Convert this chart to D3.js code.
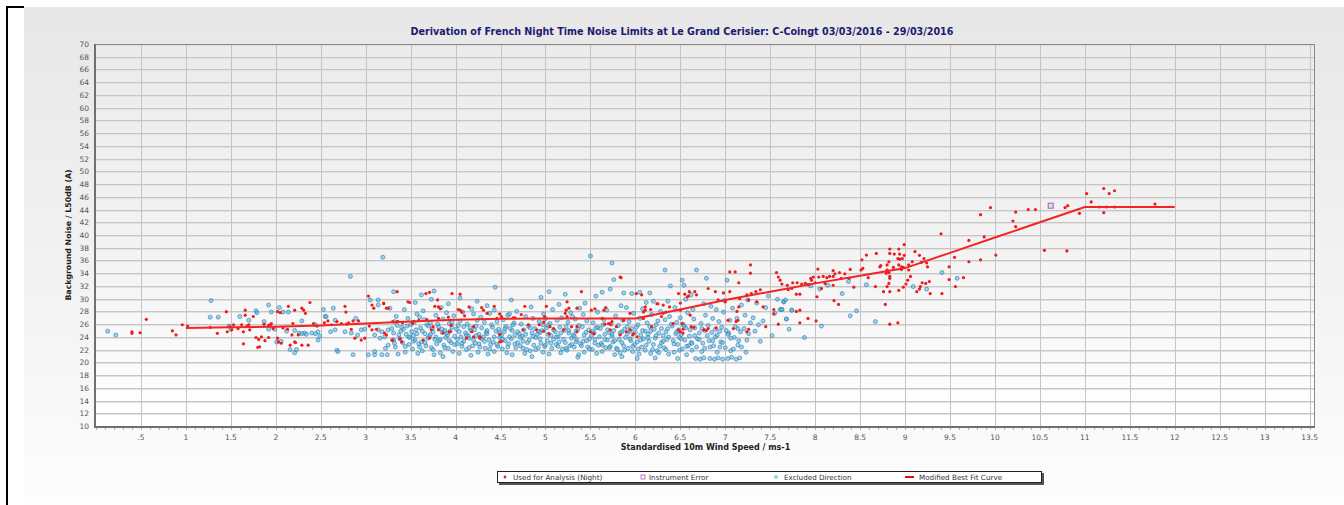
<!DOCTYPE html>
<html>
<head>
<meta charset="utf-8">
<script src="https://cdn.jsdelivr.net/npm/d3@7"></script>
<style>
  html, body { margin: 0; padding: 0; background: #ffffff; }
  svg { display: block; }
</style>
</head>
<body>
<svg id="chart" width="1344" height="505"></svg>
<script>
// ---- Chart text ----
const chartTitle = "Derivation of French Night Time Noise Limits at Le Grand Cerisier: C-Coingt 03/03/2016 - 29/03/2016";
const xAxisTitle = "Standardised 10m Wind Speed / ms-1";
const yAxisTitle = "Background Noise / L50dB (A)";
const legendLabels = ["Used for Analysis (Night)", "Instrument Error", "Excluded Direction", "Modified Best Fit Curve"];

// ---- Axis ticks ----
const xTicks = [0.5, 1, 1.5, 2, 2.5, 3, 3.5, 4, 4.5, 5, 5.5, 6, 6.5, 7, 7.5, 8, 8.5, 9, 9.5, 10, 10.5, 11, 11.5, 12, 12.5, 13, 13.5];
const xTickLabels = [".5", "1", "1.5", "2", "2.5", "3", "3.5", "4", "4.5", "5", "5.5", "6", "6.5", "7", "7.5", "8", "8.5", "9", "9.5", "10", "10.5", "11", "11.5", "12", "12.5", "13", "13.5"];
const yTicks = [10, 12, 14, 16, 18, 20, 22, 24, 26, 28, 30, 32, 34, 36, 38, 40, 42, 44, 46, 48, 50, 52, 54, 56, 58, 60, 62, 64, 66, 68, 70];

// ---- Modified best fit curve (wind speed, dB) ----
const curveSpeeds = [1, 1.5, 2, 2.5, 3, 3.5, 4, 4.5, 5, 5.5, 6, 6.5, 7, 7.5, 8, 8.5, 9, 9.5, 10, 10.5, 11, 11.5, 12];
const curveLevels = [25.4, 25.5, 25.6, 25.8, 26.1, 26.4, 26.7, 26.85, 26.9, 26.9, 26.9, 28.3, 29.8, 31.1, 32.4, 33.6, 34.8, 37.2, 39.6, 42.0, 44.4, 44.4, 44.4];

// ---- Used for Analysis (Night) ----
const usedPoints = [
  [0.40,24.8],[0.40,24.55],[0.49,24.65],[0.56,26.75],[0.85,24.95],[0.89,24.3],[0.96,25.9],[1.02,25.7],
  [1.27,25.5],[1.35,24.55],[1.45,27.95],[1.46,24.8],[1.49,25.6],[1.51,25.1],[1.53,25.9],[1.62,25.9],[1.64,24.8],[1.66,28.2],
  [1.70,25.9],[1.71,25.1],[1.75,27.2],[1.78,23.9],[1.81,23.6],[1.82,22.45],[1.84,24.0],[1.88,23.4],[1.92,23.9],[1.94,25.9],
  [1.95,26.1],[1.97,25.3],[2.02,27.95],[2.02,23.8],[2.05,27.8],[2.06,23.0],[2.14,28.8],[2.16,22.7],[2.18,24.3],[2.19,26.1],
  [2.21,23.2],[2.21,28.2],[2.29,28.5],[2.31,28.2],[2.33,27.7],[2.25,24.3],[2.38,29.4],[2.42,26.1],[2.36,22.7],[2.54,26.2],
  [2.58,26.5],[2.68,26.4],[2.73,26.1],[2.77,28.8],[2.78,27.9],[2.79,26.0],[2.81,26.2],[2.86,26.5],[2.84,25.2],[2.88,23.8],
  [2.92,26.5],[2.95,23.5],[2.99,23.8],[3.03,30.4],[3.04,25.7],[3.07,29.0],[3.09,28.5],[3.07,25.1],[3.12,25.2],[3.20,29.3],
  [3.23,24.3],[3.25,28.5],[3.29,23.5],
  [1.64,22.9],[1.80,22.35],[2.03,23.2],[2.22,23.1],[2.29,22.7],[1.66,27.4],[2.13,25.2],[1.58,25.3],[1.68,25.7],[1.87,26.0],
  [1.92,25.8],[2.08,25.4],[2.46,25.7],[2.62,25.9],
  [3.35,31.1],[3.47,29.5],[3.71,31.0],[3.67,30.8],[3.80,29.8],[3.81,28.7],[3.83,28.4],[3.96,30.8],[4.05,30.7],[4.05,28.2],
  [4.07,27.9],[4.29,28.6],[4.31,28.2],[4.35,27.7],[4.49,27.6],[4.51,27.2],[4.43,28.8],[4.77,28.8],[4.73,27.5],[4.66,27.0],
  [4.99,27.2],[4.98,26.3],[5.23,28.2],[5.26,28.5],[5.24,29.5],[5.40,31.1],[5.35,28.5],[5.65,28.2],[5.67,28.6],[5.83,33.4],
  [5.74,26.4],[5.72,26.0],[5.70,26.1],[6.01,30.8],[6.07,30.6],[6.11,28.7],[6.24,29.2],[6.31,29.0],[6.50,29.3],[6.55,30.7],
  [6.59,30.4],[6.50,24.8],[6.53,24.6],[6.42,26.1],
  [3.30,23.5],[3.38,23.7],[3.40,23.2],[3.64,23.5],[3.71,23.8],[3.73,25.1],[3.86,24.6],[3.93,24.8],[3.95,25.8],[4.12,23.8],
  [4.20,24.0],[4.27,24.0],[4.18,24.8],[4.49,24.4],[4.49,23.2],[4.75,25.1],[4.90,25.1],[4.98,24.9],[5.05,25.6],[5.04,24.5],
  [4.81,25.9],[5.29,25.6],[5.35,25.6],[5.50,24.8],[5.54,24.5],[5.90,24.8],[5.97,24.3],[3.30,26.4],[3.36,26.4],[3.41,26.2],
  [3.52,26.1],[3.59,26.6],[5.55,28.4],[5.51,28.2],
  [3.23,28.5],[3.20,29.2],[3.49,29.4],[3.77,28.8],[4.03,28.3],[4.15,28.7],[5.01,28.8],[5.22,27.7],[5.24,27.2],[3.35,26.4],
  [3.53,26.4],[3.68,26.7],[3.81,26.9],[3.92,27.1],[4.10,27.3],[4.46,26.9],[4.64,27.0],[3.21,24.6],[3.94,24.8],[3.75,25.6],
  [3.81,25.1],[4.20,25.6],[4.93,25.9],[5.09,25.3],[5.20,25.1],[5.35,24.8],[4.51,23.3],[4.27,23.8],
  [7.28,35.3],[7.05,34.2],[7.11,34.2],[7.28,34.0],[7.57,34.1],[7.59,33.4],[7.15,32.5],[7.05,31.1],[6.98,30.9],[6.89,31.1],
  [6.81,31.6],[6.60,31.1],[6.66,31.1],[6.68,30.6],[6.58,30.3],[6.92,29.8],[7.00,29.5],[7.16,30.0],[7.24,30.6],[7.29,30.8],
  [7.34,31.1],[7.39,31.4],[7.26,29.8],[7.15,28.7],[7.13,28.0],[7.14,26.6],[7.12,26.4],[7.42,28.7],[7.35,29.5],[7.54,28.3],
  [7.54,27.6],[7.59,26.0],[7.45,25.6],[7.26,25.2],[7.24,24.8],[7.09,25.3],[7.03,26.6],[6.90,25.4],[6.81,25.3],[6.76,25.1],
  [6.79,25.0],[6.62,25.6],[6.65,25.5],[6.53,25.2],[6.48,25.1],[6.52,26.1],[6.61,27.4],[6.50,28.2],[6.38,28.7],[6.34,27.9],
  [6.31,27.7],[6.29,27.2],[6.25,29.2],[6.17,28.3],[6.11,28.2],[6.09,27.9],[5.84,33.3],[5.94,27.7],[5.87,26.6],[5.79,25.6],
  [5.72,25.1],[5.66,26.0],[5.63,26.9],[5.94,25.1],[5.83,24.3],[5.98,24.5],[6.02,24.0],[6.09,26.9],[6.18,25.6],[6.48,30.8],
  [11.78,44.85],[11.21,47.3],[11.33,46.95],[11.27,46.5],[11.02,46.5],[11.07,45.2],[11.16,44.4],[11.24,44.4],[11.33,44.4],
  [11.21,43.5],[10.94,43.4],[10.78,44.3],[10.81,44.6],[10.37,44.0],[10.45,44.0],[10.23,43.6],[10.20,42.2],[10.23,41.3],
  [9.95,44.3],[9.84,43.2],[9.88,39.7],[9.71,39.15],[9.40,40.2],[9.55,36.5],[9.71,35.8],[9.84,36.1],[10.01,36.85],[10.55,37.6],
  [10.80,37.5],[9.49,35.0],[9.49,33.0],[9.56,31.9],[9.65,33.3],[9.41,30.8],[9.28,30.8],[9.27,32.7],[9.23,32.4],[9.19,32.5],
  [9.17,31.9],[9.13,31.1],[9.16,31.5],
  [8.99,38.5],[8.93,37.8],[8.83,37.8],[8.83,37.1],[8.88,37.0],[8.94,37.0],[8.99,36.8],[8.92,36.3],[8.94,36.2],[8.97,36.3],
  [9.11,37.4],[9.16,36.8],[9.21,36.3],[9.24,35.6],[9.18,35.7],[9.25,35.0],[9.08,35.8],[9.04,35.3],[8.96,35.0],[8.98,34.9],
  [8.96,34.6],[8.93,35.3],[8.87,34.9],[8.82,35.8],[8.80,35.3],[8.73,35.2],[8.72,35.0],[8.80,34.5],[8.79,34.0],[8.82,34.1],
  [8.83,33.5],[9.04,34.5],[9.06,33.5],[9.03,32.9],[9.01,32.3],[8.98,31.8],[8.83,33.2],[8.82,32.4],[8.80,31.9],[8.76,31.1],
  [8.83,31.1],[8.93,31.3],[8.78,29.1],[8.83,26.0],[8.92,26.2],[8.68,37.1],[8.57,36.85],[8.52,36.1],[8.53,34.75],[8.51,34.5],
  [8.59,33.3],[8.67,31.9],[8.38,33.2],[8.39,34.6],[8.43,31.8],[8.20,34.4],[8.27,34.1],[8.22,33.9],[8.20,33.5],[8.33,33.9],
  [8.29,33.2],[8.16,33.5],[8.13,33.3],[8.09,33.5],[8.04,33.4],[8.03,34.65],[7.98,33.4],[7.95,33.2],[7.96,32.9],[8.00,32.5],
  [7.93,32.2],[7.91,32.2],[7.89,32.4],[7.85,32.3],[7.80,32.5],[7.75,32.5],[7.74,31.6],[7.70,31.4],[7.69,32.1],[7.63,32.3],
  [7.61,32.9],[8.11,32.4],[8.20,32.1],[8.07,31.6],[8.02,30.3],[7.83,30.7],[7.79,30.7],[8.21,29.7],[8.26,29.1],[7.83,28.2],
  [7.79,28.0],[7.83,26.2],[7.92,26.9],[8.01,26.5]
];

// ---- Instrument Error ----
const instrumentErrorPoints = [[10.62,44.6]];

// ---- Excluded Direction ----
const excludedPoints = [
  [0.13,24.9],[0.22,24.3],[1.28,29.7],[1.27,27.1],[1.36,27.1],[1.48,25.7],[1.50,25.2],[1.78,28.1],[1.79,27.8],[1.92,29.0],
  [1.95,27.9],[2.08,27.9],[2.14,27.9],[1.92,25.2],[1.99,25.2],[2.01,23.2],[2.06,23.3],[2.12,24.9],[2.21,25.0],[2.26,24.6],
  [2.16,22.0],[2.21,21.5],[2.23,22.0],[2.29,26.5],[2.44,25.9],[2.55,27.2],[2.29,24.5],[2.32,24.6],[2.34,24.4],[2.40,24.6],
  [2.44,24.5],[2.47,24.8],[2.49,24.1],[2.47,23.5],[2.53,28.3],[2.64,28.5],[2.56,27.2],[2.66,26.6],[2.61,24.8],[2.66,25.1],
  [2.77,24.8],[2.84,24.6],[2.68,21.9],[2.69,21.7],[2.86,21.2],[2.83,33.5],[2.89,26.9],[2.91,24.3],[2.95,25.1],[2.99,25.2],
  [3.05,29.8],[3.14,29.8],[3.19,36.5],[3.10,24.3],[3.14,25.1],[3.16,23.8],[3.18,24.8],[3.21,24.0],[3.25,25.1],[3.29,25.3],
  [3.31,23.5],[3.25,22.7],[3.22,22.2],[3.03,21.2],[3.10,21.2],[3.18,21.2],[3.24,21.2],[3.10,21.7],[3.31,31.1],[3.14,29.0],
  [3.27,28.5],[1.60,27.2],[1.70,26.6],[1.87,26.4],[2.04,28.6],
  [3.31,24.6],[3.33,22.4],[3.35,25.8],[3.36,21.3],[3.38,23.7],[3.34,27.2],[3.39,24.9],[3.32,26.4],
  [3.41,23.1],[3.42,25.2],[3.44,21.6],[3.45,24.4],[3.47,26.9],[3.48,22.8],[3.43,28.3],[3.46,25.7],[3.49,23.9],
  [3.51,24.8],[3.52,22.1],[3.54,26.3],[3.55,23.5],[3.56,25.1],[3.58,21.4],[3.57,27.6],[3.53,24.2],[3.59,22.9],[3.55,29.4],
  [3.61,25.4],[3.62,23.2],[3.63,21.8],[3.65,26.7],[3.66,24.5],[3.67,22.6],[3.68,25.9],[3.64,28.1],[3.69,23.8],[3.62,30.6],
  [3.71,24.1],[3.72,26.2],[3.73,22.3],[3.74,25.3],[3.76,21.2],[3.77,23.6],[3.78,27.4],[3.75,24.8],[3.79,22.9],[3.73,29.9],[3.76,31.2],
  [3.81,25.6],[3.82,23.4],[3.83,21.5],[3.85,24.7],[3.86,26.8],[3.87,22.7],[3.88,25.0],[3.84,28.6],[3.89,23.9],[3.86,20.9],
  [3.91,24.3],[3.92,22.2],[3.93,26.1],[3.95,23.1],[3.96,25.5],[3.97,21.7],[3.98,27.3],[3.94,24.9],[3.99,22.8],[3.92,29.2],
  [4.01,25.2],[4.02,23.6],[4.04,21.4],[4.05,26.5],[4.06,24.0],[4.07,22.5],[4.08,27.9],[4.03,25.8],[4.09,23.3],[4.05,30.1],
  [4.11,24.6],[4.12,22.0],[4.13,26.0],[4.15,23.8],[4.16,25.4],[4.17,21.1],[4.18,28.4],[4.14,24.2],[4.19,22.6],
  [4.21,25.1],[4.22,23.0],[4.24,26.6],[4.25,21.6],[4.26,24.4],[4.27,22.4],[4.28,27.1],[4.23,25.7],[4.29,23.7],[4.24,29.6],
  [4.31,24.0],[4.32,26.3],[4.33,22.2],[4.35,25.0],[4.36,21.3],[4.37,23.5],[4.38,27.7],[4.34,24.7],[4.39,22.8],[4.35,28.9],
  [4.41,25.5],[4.42,23.2],[4.43,21.7],[4.45,24.9],[4.46,26.4],[4.47,22.5],[4.44,31.8],[4.48,25.2],[4.49,23.9],[4.43,28.2],
  [4.51,24.2],[4.52,22.1],[4.53,26.7],[4.55,23.4],[4.56,25.6],[4.57,21.5],[4.58,27.4],[4.54,24.8],[4.59,22.9],
  [4.61,25.3],[4.62,23.7],[4.63,21.2],[4.65,26.2],[4.66,24.3],[4.67,22.3],[4.68,28.0],[4.64,25.9],[4.69,23.1],[4.62,29.8],
  [4.71,24.5],[4.72,22.6],[4.73,26.0],[4.75,23.3],[4.76,25.1],[4.77,21.4],[4.78,27.2],[4.74,24.1],[4.79,22.0],
  [4.81,25.7],[4.82,23.5],[4.83,21.8],[4.85,24.6],[4.86,26.9],[4.87,22.7],[4.88,25.3],[4.84,28.7],[4.89,23.9],[4.85,20.9],
  [4.91,24.4],[4.92,22.3],[4.93,26.4],[4.95,23.0],[4.96,25.0],[4.97,21.6],[4.98,27.6],[4.94,24.7],[4.99,22.5],[4.95,30.2],
  [5.01,25.4],[5.02,23.4],[5.04,21.3],[5.05,26.1],[5.06,24.2],[5.07,22.2],[5.08,28.3],[5.03,25.8],[5.09,23.6],[5.04,31.1],
  [5.11,24.8],[5.12,22.8],[5.13,26.6],[5.15,23.2],[5.16,25.5],[5.17,21.5],[5.18,27.0],[5.14,24.0],[5.19,22.1],[5.15,29.1],
  [5.21,25.0],[5.22,23.1],[5.24,21.9],[5.25,26.3],[5.26,24.6],[5.27,22.6],[5.28,27.8],[5.23,25.6],[5.29,23.8],[5.22,30.7],
  [5.31,24.3],[5.32,22.4],[5.33,26.8],[5.35,23.5],[5.36,25.2],[5.37,21.2],[5.38,28.5],[5.34,24.9],[5.39,22.9],[5.36,20.8],
  [5.41,25.6],[5.42,23.3],[5.43,21.6],[5.45,24.7],[5.46,26.5],[5.47,22.4],[5.48,25.1],[5.44,29.3],[5.49,23.7],[5.42,27.5],
  [5.50,36.7],[5.51,24.2],[5.52,22.0],[5.53,26.2],[5.55,23.6],[5.56,25.4],[5.57,21.4],[5.58,27.9],[5.54,24.6],[5.59,22.7],[5.56,30.4],
  [5.61,25.3],[5.62,23.0],[5.63,21.7],[5.65,26.7],[5.66,24.4],[5.67,22.3],[5.68,28.2],[5.64,25.9],[5.69,23.5],[5.63,31.0],
  [5.71,24.7],[5.72,22.5],[5.73,26.0],[5.74,35.6],[5.75,23.2],[5.76,25.0],[5.77,21.2],[5.78,27.3],[5.74,24.1],[5.79,22.2],[5.76,33.0],[5.72,31.5],
  [5.81,25.8],[5.82,23.6],[5.83,21.5],[5.85,24.8],[5.86,26.6],[5.87,22.6],[5.88,25.2],[5.84,28.9],[5.89,23.9],[5.87,30.9],[5.85,20.9],
  [5.91,24.5],[5.92,22.2],[5.93,26.4],[5.95,23.4],[5.96,25.3],[5.97,21.7],[5.98,27.7],[5.94,24.9],[5.99,22.8],[5.96,30.8],
  [6.01,25.5],[6.02,23.2],[6.04,21.3],[6.05,26.9],[6.06,24.3],[6.07,22.4],[6.08,28.4],[6.03,25.9],[6.09,23.7],[6.05,31.0],[6.02,20.6],
  [6.11,24.9],[6.12,22.7],[6.13,26.2],[6.15,23.3],[6.16,25.6],[6.17,21.4],[6.18,27.5],[6.14,24.4],[6.19,22.0],[6.16,30.9],[6.12,29.4],
  [6.21,25.2],[6.22,23.8],[6.24,21.8],[6.25,26.5],[6.26,24.6],[6.27,22.5],[6.28,28.0],[6.23,25.9],[6.29,23.1],[6.22,20.7],
  [6.31,24.2],[6.32,22.3],[6.33,34.5],[6.33,26.7],[6.35,23.6],[6.36,25.3],[6.37,21.3],[6.38,27.2],[6.34,24.8],[6.39,32.0],[6.36,29.6],
  [6.41,25.7],[6.42,23.4],[6.43,21.6],[6.45,24.5],[6.46,26.3],[6.47,22.8],[6.48,25.1],[6.44,28.6],[6.49,23.9],[6.47,20.6],
  [6.51,24.4],[6.52,32.9],[6.52,22.1],[6.53,26.0],[6.55,23.5],[6.56,25.4],[6.57,21.2],[6.58,27.8],[6.54,32.1],[6.59,22.6],[6.56,29.9],
  [6.61,25.1],[6.62,23.1],[6.63,21.9],[6.65,26.8],[6.66,24.2],[6.67,20.6],[6.68,34.5],[6.64,28.3],[6.69,23.7],[6.62,30.6],
  [6.71,24.6],[6.72,20.5],[6.73,26.1],[6.75,23.0],[6.76,20.7],[6.77,22.2],[6.78,27.4],[6.79,33.2],[6.74,25.3],[6.76,29.2],
  [6.81,25.8],[6.82,23.4],[6.83,20.6],[6.85,24.7],[6.86,26.9],[6.87,22.6],[6.88,20.5],[6.84,28.8],[6.89,24.0],
  [6.91,24.3],[6.92,20.7],[6.93,26.4],[6.95,23.2],[6.96,25.5],[6.97,20.5],[6.98,27.9],[6.94,22.4],[6.99,29.7],
  [7.01,25.0],[7.02,32.9],[7.03,20.6],[7.05,26.6],[7.06,23.8],[7.07,20.8],[7.08,28.5],[7.04,24.6],[7.09,22.1],
  [7.11,25.6],[7.12,20.5],[7.13,26.9],[7.15,23.4],[7.16,20.7],[7.17,24.8],[7.18,29.0],[7.14,22.7],
  [7.21,25.3],[7.22,27.4],[7.24,23.5],[7.25,29.8],[7.26,24.5],[7.28,26.2],[7.23,21.6],
  [7.31,27.0],[7.33,24.9],[7.35,29.3],[7.37,25.9],[7.39,23.3],
  [7.42,26.5],[7.45,28.6],[7.48,30.4],[7.52,24.2],[7.55,27.7],[7.58,29.9],[7.61,28.3],[7.63,28.3],[7.65,29.5],[7.68,26.8],
  [7.74,28.2],[7.88,23.9],[7.71,25.2],
  [9.41,34.1],[9.58,33.2],[9.24,31.5],[9.09,31.9],[8.57,32.2],[8.37,32.7],[8.14,32.1],[8.46,28.1],[8.39,27.3],[8.67,26.4],
  [8.07,25.7],[7.68,26.8],[7.65,29.5],[7.67,29.8],[7.74,28.2],[7.63,28.3],[8.05,31.5],[7.95,32.0],[8.30,30.8],
  // dense core of the excluded-direction cloud
  [3.32,23.0],[3.37,24.3],[3.40,25.5],[3.44,22.5],[3.48,24.0],[3.50,25.9],[3.53,23.3],[3.57,24.5],[3.60,22.4],[3.63,24.9],
  [3.66,23.1],[3.70,25.7],[3.72,24.4],[3.75,22.0],[3.78,24.0],[3.80,26.0],[3.83,23.6],[3.85,25.2],[3.88,22.3],[3.90,24.6],
  [3.93,23.4],[3.96,26.3],[3.99,24.1],[4.02,22.9],[4.04,24.8],[4.07,23.0],[4.09,25.6],[4.12,24.3],[4.15,22.3],[4.17,25.0],
  [4.20,23.5],[4.23,24.2],[4.26,22.9],[4.29,25.4],[4.32,23.3],[4.35,24.5],[4.38,22.1],[4.40,25.9],[4.43,24.0],[4.46,22.8],
  [4.49,24.6],[4.52,23.6],[4.55,25.3],[4.58,22.4],[4.60,24.0],[4.63,25.0],[4.66,22.9],[4.69,24.8],[4.72,23.9],[4.75,22.2],
  [4.78,24.4],[4.80,23.1],[4.83,25.4],[4.86,24.1],[4.89,22.0],[4.92,24.9],[4.94,23.7],[4.97,25.9],[5.00,22.7],[5.03,24.4],
  [5.06,23.0],[5.09,25.1],[5.12,24.0],[5.14,22.5],[5.17,24.6],[5.20,23.6],[5.23,22.2],[5.26,25.0],[5.29,22.8],[5.32,24.1],
  [5.34,23.2],[5.37,25.8],[5.40,22.6],[5.43,24.3],[5.46,23.4],[5.49,22.1],[5.52,24.9],[5.55,23.0],[5.58,25.5],[5.60,24.0],
  [5.63,22.7],[5.66,23.6],[5.69,25.1],[5.71,22.3],[5.74,24.4],[5.77,23.4],[5.80,22.0],[5.83,24.6],[5.85,23.1],[5.88,21.9],
  [5.91,25.6],[5.94,23.7],[5.97,22.5],[6.00,24.7],[6.03,22.1],[6.06,23.5],[6.08,25.0],[6.11,21.9],[6.14,23.9],[6.17,24.9],
  [6.20,22.8],[6.23,24.2],[6.26,21.5],[6.29,25.3],[6.31,23.3],[6.34,22.0],[6.37,24.0],[6.40,26.0],[6.43,22.9],[6.46,24.8],
  [6.49,21.9],[6.51,23.7],[6.54,25.7],[6.57,22.5],[6.60,24.1],[6.63,23.0],[6.66,25.4],[6.68,22.4],[6.71,23.6],[6.74,21.7],
  [6.77,25.0],[6.80,24.2],[6.83,22.4],[6.86,23.4],[6.89,25.2],[6.91,21.6],[6.94,24.9],[6.97,23.1],[7.00,22.3],[7.03,24.4],
  [7.06,21.8],[7.10,23.9],[7.14,25.3],[7.18,22.4],
  [3.90,27.8],[4.60,27.6],[5.30,27.2],[5.90,28.6],[6.20,29.6],[6.50,27.0],[6.90,28.3],[5.00,26.9],[4.20,27.6],[3.60,27.1]
];

// ---- Layout ----
const W = 1344, H = 505;
const plot = { left: 96, right: 1315, top: 44, bottom: 426 };

const svg = d3.select("#chart");
const x = d3.scaleLinear().domain([0, 13.56]).range([plot.left, plot.right]);
const y = d3.scaleLinear().domain([10, 70]).range([plot.bottom, plot.top]);

const defs = svg.append("defs");
const panelGrad = defs.append("linearGradient").attr("id", "panelGrad").attr("x1", 0).attr("x2", 0).attr("y1", 0).attr("y2", 1);
panelGrad.append("stop").attr("offset", "0%").attr("stop-color", "#e7e7e7");
panelGrad.append("stop").attr("offset", "70%").attr("stop-color", "#f6f6f6");
panelGrad.append("stop").attr("offset", "100%").attr("stop-color", "#fdfdfd");
const plotGrad = defs.append("linearGradient").attr("id", "plotGrad").attr("x1", 0).attr("x2", 0).attr("y1", 0).attr("y2", 1);
plotGrad.append("stop").attr("offset", "0%").attr("stop-color", "#ebebeb");
plotGrad.append("stop").attr("offset", "60%").attr("stop-color", "#f4f4f4");
plotGrad.append("stop").attr("offset", "100%").attr("stop-color", "#ffffff");

// Outer panel and frame
svg.append("rect").attr("x", 24).attr("y", 7).attr("width", W - 24).attr("height", H - 7).attr("fill", "url(#panelGrad)");
svg.append("line").attr("x1", 7).attr("x2", 7).attr("y1", 6).attr("y2", H).attr("stroke", "#000").attr("stroke-width", 2);
svg.append("line").attr("x1", 6).attr("x2", 24).attr("y1", 7).attr("y2", 7).attr("stroke", "#000").attr("stroke-width", 2);

// Title
svg.append("text").attr("x", 682).attr("y", 35).attr("text-anchor", "middle")
  .attr("font-family", "DejaVu Sans, Verdana, sans-serif").attr("font-weight", "bold").attr("font-size", "9.6px")
  .attr("fill", "#1b1b72").text(chartTitle);

// Plot background
svg.append("rect").attr("x", plot.left).attr("y", plot.top).attr("width", plot.right - plot.left).attr("height", plot.bottom - plot.top)
  .attr("fill", "url(#plotGrad)");

// Grid
const grid = svg.append("g");
grid.selectAll("line.h").data(yTicks.slice(1)).join("line")
  .attr("x1", plot.left).attr("x2", plot.right)
  .attr("y1", d => Math.round(y(d)) + 0.5).attr("y2", d => Math.round(y(d)) + 0.5)
  .attr("stroke", "#c6c6c6").attr("stroke-width", 1);
grid.selectAll("line.h2").data(yTicks.slice(1)).join("line")
  .attr("x1", plot.left).attr("x2", plot.right)
  .attr("y1", d => Math.round(y(d)) + 1.5).attr("y2", d => Math.round(y(d)) + 1.5)
  .attr("stroke", "#e2e2e2").attr("stroke-width", 1);
grid.selectAll("line.v").data(xTicks).join("line")
  .attr("x1", d => Math.round(x(d)) + 0.5).attr("x2", d => Math.round(x(d)) + 0.5)
  .attr("y1", plot.top).attr("y2", plot.bottom)
  .attr("stroke", "#c4c4c4").attr("stroke-width", 1);

// Plot border
svg.append("line").attr("x1", plot.left).attr("x2", plot.right).attr("y1", plot.top + 0.5).attr("y2", plot.top + 0.5).attr("stroke", "#8a8a8a");
svg.append("line").attr("x1", plot.right - 0.5).attr("x2", plot.right - 0.5).attr("y1", plot.top).attr("y2", plot.bottom).attr("stroke", "#8a8a8a");
svg.append("line").attr("x1", plot.left - 1).attr("x2", plot.left - 1).attr("y1", plot.top).attr("y2", plot.bottom + 2).attr("stroke", "#707070").attr("stroke-width", 2);
svg.append("line").attr("x1", plot.left - 2).attr("x2", plot.right).attr("y1", plot.bottom + 1).attr("y2", plot.bottom + 1).attr("stroke", "#707070").attr("stroke-width", 2);

// Minor ticks along the x axis
const minorTicks = d3.range(0, 136).map(i => i / 10);
svg.append("g").selectAll("line").data(minorTicks).join("line")
  .attr("x1", d => Math.round(x(d)) + 0.5).attr("x2", d => Math.round(x(d)) + 0.5)
  .attr("y1", plot.bottom + 2).attr("y2", plot.bottom + 4)
  .attr("stroke", "#b0b0b0");

// Tick labels
const tickFont = "DejaVu Sans, Verdana, sans-serif";
svg.append("g").selectAll("text").data(yTicks).join("text")
  .attr("x", plot.left - 7).attr("y", d => y(d) + 3)
  .attr("text-anchor", "end").attr("font-family", tickFont).attr("font-size", "7.5px").attr("fill", "#555")
  .text(d => d);
svg.append("g").selectAll("text").data(xTicks).join("text")
  .attr("x", d => x(d)).attr("y", plot.bottom + 14)
  .attr("text-anchor", "middle").attr("font-family", tickFont).attr("font-size", "7.5px").attr("fill", "#555")
  .text((d, i) => xTickLabels[i]);

// Axis titles
svg.append("text").attr("x", (plot.left + plot.right) / 2).attr("y", 450).attr("text-anchor", "middle")
  .attr("font-family", tickFont).attr("font-weight", "bold").attr("font-size", "8px").attr("fill", "#222")
  .text(xAxisTitle);
svg.append("text").attr("transform", `translate(71,${(plot.top + plot.bottom) / 2}) rotate(-90)`).attr("text-anchor", "middle")
  .attr("font-family", tickFont).attr("font-weight", "bold").attr("font-size", "7.8px").attr("fill", "#222")
  .text(yAxisTitle);

// Data marks
const marks = svg.append("g");
marks.selectAll("circle.ex").data(excludedPoints).join("circle")
  .attr("cx", d => x(d[0])).attr("cy", d => y(d[1])).attr("r", 2)
  .attr("fill", "rgba(95,178,215,0.55)").attr("stroke", "rgba(40,130,185,0.8)").attr("stroke-width", 0.8);
marks.selectAll("circle.used").data(usedPoints).join("circle")
  .attr("cx", d => x(d[0])).attr("cy", d => y(d[1])).attr("r", 1.6)
  .attr("fill", "#ee1c1c");

const curveData = curveSpeeds.map((s, i) => [s, curveLevels[i]]);
marks.append("path").datum(curveData)
  .attr("d", d3.line().x(d => x(d[0])).y(d => y(d[1])))
  .attr("fill", "none").attr("stroke", "#f42424").attr("stroke-width", 2);

marks.selectAll("rect.ie").data(instrumentErrorPoints).join("rect")
  .attr("x", d => x(d[0]) - 2.5).attr("y", d => y(d[1]) - 2.5).attr("width", 5).attr("height", 5)
  .attr("fill", "#e6d8ee").attr("stroke", "#9a66b0").attr("stroke-width", 1);

// Legend
const lg = svg.append("g");
lg.append("rect").attr("x", 499).attr("y", 473).attr("width", 545).attr("height", 12).attr("fill", "#555");
lg.append("rect").attr("x", 497.5).attr("y", 471.5).attr("width", 544).attr("height", 11).attr("fill", "#fff").attr("stroke", "#222");
const legendX = [513, 649, 784, 919];
lg.append("circle").attr("cx", 505).attr("cy", 477).attr("r", 1.4).attr("fill", "#ee1c1c");
lg.append("rect").attr("x", 641).attr("y", 475).attr("width", 4).attr("height", 4).attr("fill", "#fff").attr("stroke", "#9a66b0").attr("stroke-width", 0.8);
lg.append("circle").attr("cx", 776).attr("cy", 477).attr("r", 1.6).attr("fill", "rgba(140,200,225,0.7)").attr("stroke", "rgba(50,140,190,0.6)").attr("stroke-width", 0.6);
lg.append("line").attr("x1", 905).attr("x2", 914).attr("y1", 477).attr("y2", 477).attr("stroke", "#e01010").attr("stroke-width", 2);
lg.selectAll("text").data(legendLabels).join("text")
  .attr("x", (d, i) => legendX[i]).attr("y", 480)
  .attr("font-family", tickFont).attr("font-size", "7.2px").attr("fill", "#333")
  .text(d => d);
</script>
</body>
</html>
